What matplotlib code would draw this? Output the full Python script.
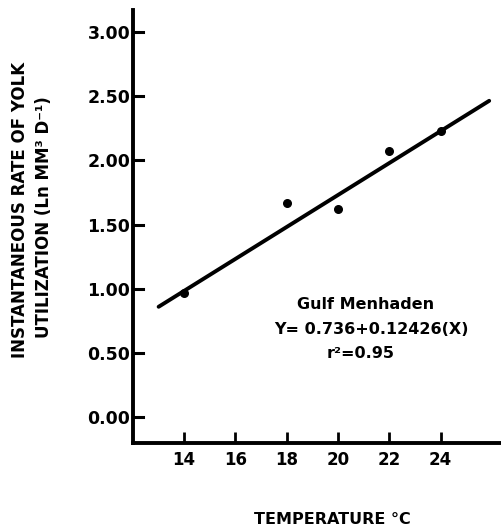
import numpy as np
import matplotlib.pyplot as plt

plt.rcParams['font.family'] = ['DejaVu Sans']
plt.rcParams['font.weight'] = 'bold'

temp = [14, 18, 20, 22, 24]
rate = [0.965, 1.67, 1.62, 2.07, 2.23]

intercept = 0.736
slope = 0.12426
fit_start, fit_end = 13.0, 25.9

xticks = [14, 16, 18, 20, 22, 24]
yticks = [0.0, 0.5, 1.0, 1.5, 2.0, 2.5, 3.0]

fig = plt.figure(figsize=(5.02, 5.32), dpi=100)
ax = fig.add_axes([133 / 502, 1 - 443 / 532, 369 / 502, 433 / 532])

tl = np.linspace(fit_start, fit_end, 50)
ax.plot(tl, intercept + slope * (tl - 12), color='black', lw=2.8, solid_capstyle='round')
ax.scatter(temp, rate, s=30, color='black', zorder=3)

ax.set_xlim(12, 26.4)
ax.set_ylim(-0.2, 3.17)

for s in ['top', 'right']:
    ax.spines[s].set_visible(False)
for s in ['left', 'bottom']:
    ax.spines[s].set_linewidth(2.8)

ax.set_xticks(xticks)
ax.set_xticklabels([str(t) for t in xticks])
ax.set_yticks(yticks)
ax.set_yticklabels(['%.2f' % v for v in yticks])
ax.tick_params(axis='y', direction='out', length=0, pad=2, labelsize=12.5)
ax.tick_params(axis='x', direction='in', length=8, width=2, pad=6, labelsize=12)
for v in yticks:
    ax.plot([12, 12.4], [v, v], color='black', lw=2.2, clip_on=False)

ax.text(21.06, 0.88, 'Gulf Menhaden', fontsize=11.5, fontweight='bold', ha='center', va='center')
ax.text(21.3, 0.68, 'Y= 0.736+0.12426(X)', fontsize=11.5, fontweight='bold', ha='center', va='center')
ax.text(20.9, 0.50, 'r²=0.95', fontsize=11.5, fontweight='bold', ha='center', va='center')

fig.text(20 / 502, 1 - 210 / 532, 'INSTANTANEOUS RATE OF YOLK', rotation=90, fontsize=12,
         fontweight='bold', ha='center', va='center')
fig.text(44 / 502, 1 - 217 / 532, 'UTILIZATION (Ln MM³ D⁻¹)', rotation=90, fontsize=12,
         fontweight='bold', ha='center', va='center')
fig.text(332 / 502, 1 - 520 / 532, 'TEMPERATURE °C', fontsize=11.5, fontweight='bold', ha='center', va='center')

fig.savefig('out.png', dpi=100)
